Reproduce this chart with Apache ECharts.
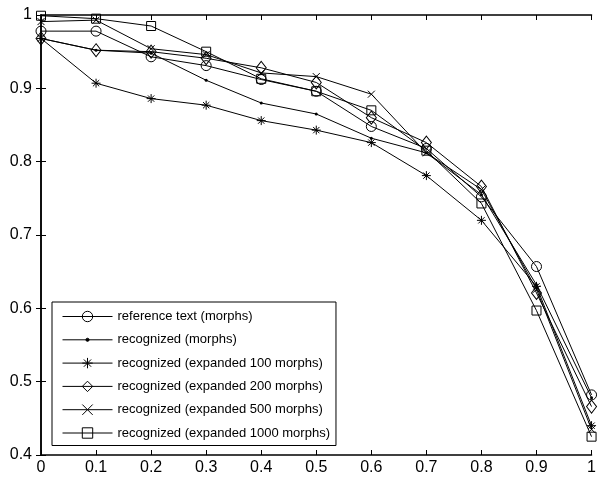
<!DOCTYPE html>
<html><head><meta charset="utf-8">
<script src="https://cdn.jsdelivr.net/npm/echarts@6/dist/echarts.min.js"></script>
<style>html,body{margin:0;padding:0;background:#fff}#c{width:599px;height:479px}</style>
</head><body><div id="c"></div>
<script>
var xs = [0, 0.1, 0.2, 0.3, 0.4, 0.5, 0.6, 0.7, 0.8, 0.9, 1];
var refText  = [0.978, 0.978, 0.943, 0.931, 0.912, 0.896, 0.848, 0.818, 0.752, 0.657, 0.482];
var recMorphs = [0.968, 0.952, 0.948, 0.911, 0.880, 0.865, 0.832, 0.812, 0.755, 0.632, 0.478];
var exp100  = [0.968, 0.907, 0.886, 0.877, 0.856, 0.843, 0.826, 0.781, 0.720, 0.630, 0.440];
var exp200  = [0.968, 0.952, 0.950, 0.941, 0.928, 0.908, 0.860, 0.826, 0.766, 0.621, 0.466];
var exp500  = [0.991, 0.993, 0.954, 0.946, 0.921, 0.916, 0.892, 0.812, 0.762, 0.626, 0.435];
var exp1000 = [0.999, 0.995, 0.985, 0.950, 0.913, 0.896, 0.870, 0.815, 0.743, 0.597, 0.425];
var names = ['reference text (morphs)', 'recognized (morphs)', 'recognized (expanded 100 morphs)',
  'recognized (expanded 200 morphs)', 'recognized (expanded 500 morphs)', 'recognized (expanded 1000 morphs)'];
var xTicks = [0, 0.1, 0.2, 0.3, 0.4, 0.5, 0.6, 0.7, 0.8, 0.9, 1];
var yTicks = [0.4, 0.5, 0.6, 0.7, 0.8, 0.9, 1];

var FONT = 'Liberation Sans';
function pairs(v){ return xs.map(function(x,i){ return [x, v[i]]; }); }
var styles = [
  {symbol:'circle', size:10},
  {symbol:'path://M0,0M10,10M3.5,5A1.5,1.5,0,1,0,6.5,5A1.5,1.5,0,1,0,3.5,5Z', size:10, fill:true},
  {symbol:'path://M0,5L10,5M5,0L5,10M1.5,1.5L8.5,8.5M8.5,1.5L1.5,8.5', size:9},
  {symbol:'path://M5,0L10,7L5,14L0,7Z', size:[10,13]},
  {symbol:'path://M0,0L10,10M10,0L0,10', size:7},
  {symbol:'rect', size:9}
];
var dataSets = [refText, recMorphs, exp100, exp200, exp500, exp1000];
var series = dataSets.map(function(d, i){
  var s = styles[i];
  return {
    name: names[i], type: 'line', data: pairs(d),
    symbol: s.symbol, symbolSize: s.size, showAllSymbol: true,
    lineStyle: {color: '#000', width: 1},
    itemStyle: {color: s.fill ? '#000' : 'rgba(0,0,0,0)', borderColor: '#000', borderWidth: s.fill ? 0 : 1},
    emphasis: {disabled: true}, z: 2 + i
  };
});
function axisBase(min, max, interval, pos, show){
  return {
    type: 'value', min: min, max: max, interval: interval, position: pos,
    axisLine: {show: true, lineStyle: {color: '#000', width: 1.5}},
    axisTick: {show: true, inside: true, length: 5, lineStyle: {color: '#000', width: 1}},
    axisLabel: {show: show, color: '#000', fontFamily: FONT, fontSize: 16,
      formatter: function(v){ return String(Math.round(v*10)/10); }},
    splitLine: {show: false}
  };
}
var xb = axisBase(xTicks[0], xTicks[xTicks.length-1], 0.1, 'bottom', true); xb.axisLabel.margin = 5;
var xt = axisBase(xTicks[0], xTicks[xTicks.length-1], 0.1, 'top', false);
var yl = axisBase(yTicks[0], yTicks[yTicks.length-1], 0.1, 'left', true); yl.axisLabel.margin = 9;
var yr = axisBase(yTicks[0], yTicks[yTicks.length-1], 0.1, 'right', false);
var chart = echarts.init(document.getElementById('c'), null, {renderer: 'canvas'});
chart.setOption({
  animation: false,
  backgroundColor: '#fff',
  grid: {left: 41, right: 2, top: 15, bottom: 24, containLabel: false},
  xAxis: [xb, xt],
  yAxis: [yl, yr],
  legend: {
    orient: 'vertical', left: 52, top: 302,
    itemWidth: 50, itemHeight: 13, itemGap: 10.3,
    padding: [8, 6, 6, 10],
    borderColor: '#000', borderWidth: 1, backgroundColor: '#fff',
    lineStyle: {width: 1},
    itemStyle: {borderWidth: 1},
    textStyle: {color: '#000', fontFamily: FONT, fontSize: 13},
    data: names
  },
  series: series
});
</script></body></html>
